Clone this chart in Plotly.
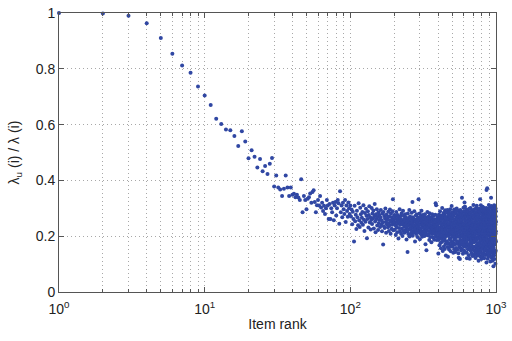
import numpy as np
import plotly.graph_objects as go

# ratio lambda_u(i)/lambda(i) for item ranks 1..100 (read individually)
ratio_1_100 = [
    1.000, 0.998, 0.990, 0.963, 0.910, 0.854, 0.812, 0.786, 0.737, 0.704,
    0.670, 0.621, 0.602, 0.582, 0.580, 0.559, 0.523, 0.576, 0.539, 0.479,
    0.508, 0.485, 0.446, 0.477, 0.433, 0.452, 0.423, 0.460, 0.480, 0.378,
    0.418, 0.375, 0.367, 0.344, 0.370, 0.418, 0.375, 0.344, 0.375, 0.349,
    0.352, 0.340, 0.349, 0.339, 0.330, 0.404, 0.286, 0.344, 0.330, 0.297,
    0.334, 0.340, 0.353, 0.320, 0.358, 0.365, 0.323, 0.286, 0.311, 0.330,
    0.310, 0.344, 0.303, 0.320, 0.290, 0.309, 0.280, 0.300, 0.330, 0.310,
    0.262, 0.315, 0.262, 0.300, 0.286, 0.320, 0.257, 0.310, 0.323, 0.274,
    0.300, 0.330, 0.318, 0.245, 0.361, 0.286, 0.310, 0.268, 0.320, 0.297,
    0.280, 0.330, 0.251, 0.310, 0.290, 0.270, 0.321, 0.300, 0.280, 0.310,
]

# ranks 101..200 (thousandths, estimated from the cloud)
ratio_101_200 = [
    271, 296, 243, 288, 262, 181, 309, 254, 277, 226, 291, 268, 239, 318, 257, 233, 302, 279, 248, 266,
    287, 241, 311, 259, 219, 283, 252, 298, 273, 193, 262, 289, 231, 276, 307, 249, 268, 224, 258, 301,
    244, 281, 263, 292, 228, 271, 315, 253, 214, 279, 261, 297, 238, 269, 222, 286, 247, 276, 259, 233,
    268, 294, 241, 257, 218, 281, 249, 170, 287, 236, 272, 229, 263, 299, 251, 212, 277, 243, 258, 266,
    232, 288, 246, 219, 271, 239, 296, 257, 209, 281, 252, 227, 268, 241, 289, 332, 221, 259, 247, 276,
]

# ranks 201..400
ratio_201_400 = [
    248, 223, 271, 239, 204, 262, 287, 231, 253, 214, 276, 244, 259, 192, 268, 229, 251, 297, 218, 263,
    241, 273, 209, 254, 282, 227, 258, 201, 243, 291, 219, 249, 272, 234, 212, 261, 238, 279, 221, 252,
    267, 231, 188, 246, 258, 217, 143, 281, 239, 208, 264, 226, 253, 294, 199, 243, 271, 223, 249, 232,
    211, 259, 237, 284, 219, 248, 323, 202, 268, 229, 241, 262, 213, 254, 289, 224, 238, 181, 259, 227,
    252, 274, 208, 243, 218, 279, 232, 261, 197, 248, 236, 267, 221, 332, 229, 257, 212, 244, 281, 189,
    241, 219, 263, 228, 272, 207, 253, 291, 216, 239, 198, 258, 231, 249, 276, 211, 242, 269, 219, 251,
    228, 262, 201, 238, 279, 217, 252, 171, 233, 268, 209, 244, 150, 259, 222, 248, 231, 287, 203, 239,
    219, 257, 243, 206, 271, 232, 254, 186, 241, 282, 218, 263, 197, 229, 251, 212, 268, 237, 224, 178,
    263, 229, 251, 208, 279, 221, 239, 196, 258, 227, 272, 211, 243, 218, 249, 187, 232, 261, 213, 241,
    223, 252, 277, 198, 318, 229, 207, 311, 238, 219, 259, 186, 227, 248, 213, 269, 221, 242, 197, 231,
]

# ranks 401..700
ratio_401_700 = [
    223, 138, 256, 187, 231, 278, 204, 247, 168, 262, 219, 193, 289, 228, 271, 176, 212, 249, 157, 258,
    201, 238, 274, 179, 246, 213, 301, 191, 229, 264, 147, 221, 268, 203, 241, 184, 283, 209, 163, 252,
    214, 276, 192, 257, 154, 232, 293, 198, 243, 172, 224, 267, 131, 248, 211, 285, 182, 236, 259, 206,
    179, 251, 213, 294, 161, 229, 271, 126, 239, 201, 277, 174, 233, 219, 261, 152, 287, 208, 244, 189,
    231, 269, 163, 222, 297, 193, 253, 209, 146, 258, 217, 279, 181, 241, 204, 308, 171, 228, 266, 213,
    247, 162, 234, 286, 199, 243, 178, 262, 141, 221, 274, 209, 251, 169, 232, 296, 188, 239, 153, 224,
    191, 259, 218, 143, 281, 203, 248, 172, 229, 288, 212, 158, 241, 268, 197, 223, 299, 183, 254, 208,
    238, 151, 262, 201, 276, 173, 232, 214, 291, 179, 249, 139, 222, 271, 123, 244, 198, 284, 161, 257,
    213, 279, 168, 252, 118, 231, 268, 187, 294, 158, 219, 242, 176, 263, 207, 149, 281, 199, 236, 251,
    258, 182, 221, 338, 153, 239, 287, 202, 271, 169, 228, 247, 137, 241, 211, 276, 189, 302, 218, 164,
    243, 198, 267, 149, 232, 289, 177, 321, 212, 259, 171, 238, 306, 189, 223, 249, 142, 279, 201, 231,
    209, 271, 161, 257, 222, 296, 178, 229, 248, 141, 121, 233, 286, 197, 168, 252, 279, 213, 239, 187,
    261, 153, 219, 289, 204, 241, 171, 268, 227, 132, 218, 277, 191, 253, 209, 298, 162, 244, 221, 119,
    198, 281, 232, 159, 269, 212, 247, 181, 301, 224, 148, 258, 193, 236, 286, 172, 229, 211, 268, 139,
    231, 188, 294, 161, 249, 218, 276, 129, 238, 203, 262, 179, 289, 209, 151, 271, 197, 242, 223, 312,
]

# ranks 701..1000
ratio_701_1000 = [
    212, 163, 268, 191, 243, 132, 287, 219, 178, 251, 201, 297, 148, 229, 262, 187, 279, 139, 221, 238,
    182, 259, 208, 122, 286, 197, 241, 158, 272, 217, 301, 149, 231, 277, 189, 248, 168, 309, 141, 223,
    247, 188, 281, 152, 229, 268, 131, 211, 296, 176, 259, 221, 162, 238, 289, 198, 143, 271, 112, 227,
    192, 279, 158, 241, 209, 298, 139, 218, 263, 171, 289, 202, 249, 151, 233, 268, 179, 332, 219, 128,
    258, 197, 287, 142, 229, 183, 311, 207, 252, 161, 281, 118, 223, 269, 188, 298, 153, 239, 201, 127,
    232, 291, 169, 248, 203, 271, 138, 242, 211, 306, 157, 219, 279, 131, 261, 192, 228, 302, 179, 247,
    198, 141, 268, 221, 287, 172, 239, 189, 259, 121, 232, 299, 161, 251, 208, 278, 149, 243, 187, 219,
    271, 158, 229, 202, 297, 133, 248, 281, 179, 218, 152, 287, 168, 241, 262, 193, 301, 209, 231, 106,
    366, 221, 162, 279, 198, 251, 139, 268, 188, 372, 229, 291, 148, 212, 258, 171, 239, 119, 222, 277,
    181, 249, 142, 298, 211, 272, 128, 219, 288, 168, 241, 203, 312, 152, 228, 291, 187, 262, 158, 223,
    208, 279, 171, 233, 259, 132, 248, 191, 303, 149, 218, 271, 199, 109, 241, 179, 287, 221, 162, 259,
    141, 232, 202, 278, 338, 209, 171, 251, 189, 308, 151, 219, 291, 198, 242, 122, 261, 181, 228, 269,
    249, 188, 231, 129, 281, 201, 159, 298, 112, 268, 182, 241, 209, 289, 139, 222, 258, 168, 279, 92,
    218, 149, 272, 198, 299, 158, 239, 191, 281, 131, 229, 311, 203, 247, 169, 233, 118, 291, 212, 261,
    238, 172, 268, 306, 201, 278, 141, 229, 259, 187, 101, 241, 299, 209, 271, 148, 218, 289, 181, 252,
]

x_tick_vals = [1, 10, 100, 1000]
x_tick_text = ["10<sup>0</sup>", "10<sup>1</sup>", "10<sup>2</sup>", "10<sup>3</sup>"]
y_tick_vals = [0, 0.2, 0.4, 0.6, 0.8, 1]
y_tick_text = ["0", "0.2", "0.4", "0.6", "0.8", "1"]

ratios = list(ratio_1_100) + [v / 1000 for v in
                              ratio_101_200 + ratio_201_400 + ratio_401_700 + ratio_701_1000]
ranks = np.arange(1, len(ratios) + 1)

fig = go.Figure(go.Scatter(
    x=ranks, y=ratios, mode="markers",
    marker=dict(size=4, color="#3047a3", line=dict(width=0)),
    cliponaxis=False,
))

FONT = "Liberation Sans, Arial, sans-serif"
axis_common = dict(
    showline=True, linecolor="#555555", linewidth=1, mirror="allticks",
    ticks="inside", ticklen=5, tickcolor="#555555",
    showgrid=True, gridcolor="#a8a8a8", griddash="1px,3px", gridwidth=1,
    zeroline=False, ticklabeloverflow="allow",
    tickfont=dict(family=FONT, size=14, color="#222222"),
)

fig.update_xaxes(
    type="log", range=[0, 3],
    tickmode="array", tickvals=x_tick_vals, ticktext=x_tick_text,
    ticklabelstandoff=4,
    minor=dict(dtick="D1", showgrid=True, gridcolor="#a8a8a8", griddash="1px,3px",
               ticks="inside", ticklen=3, tickcolor="#555555"),
    title=dict(text="Item rank", standoff=3,
               font=dict(family=FONT, size=14, color="#222222")),
    **axis_common,
)
fig.update_yaxes(
    range=[0, 1],
    tickmode="array", tickvals=y_tick_vals, ticktext=y_tick_text,
    title=dict(text="λ<sub>u</sub> (i) / λ (i)", standoff=12,
               font=dict(family=FONT, size=14, color="#222222")),
    **axis_common,
)

fig.update_layout(
    width=512, height=341,
    margin=dict(l=59, r=10, t=5, b=49),
    paper_bgcolor="white", plot_bgcolor="white",
    showlegend=False,
)

fig.write_html("out.html")
